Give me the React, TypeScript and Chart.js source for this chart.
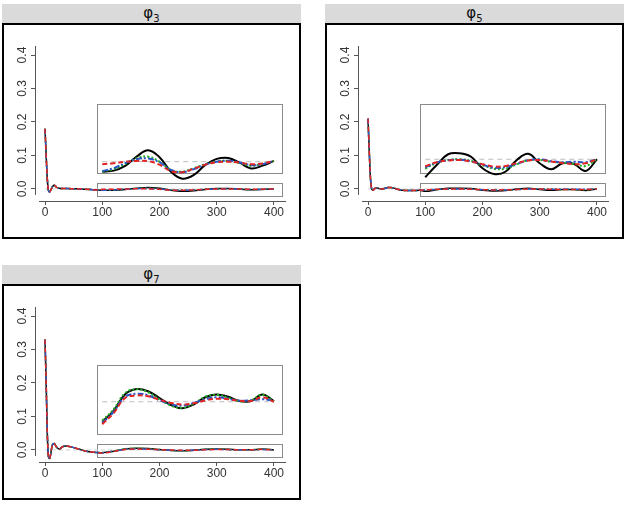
import React, { useEffect, useRef } from "react";
import { Chart, registerables } from "chart.js";
Chart.register(...registerables);

// ---------- data ----------
const earlyX = [0, 2, 4, 6, 8, 10, 12, 14, 16, 18, 20, 25, 30, 35, 40, 50, 60, 70, 80, 90];
const insetX = [100, 120, 140, 160, 180, 200, 220, 240, 260, 280, 300, 320, 340, 360, 380, 400];
const xTicks = [0, 100, 200, 300, 400];
const yTicks = [0, 0.1, 0.2, 0.3, 0.4];

// φ3 (main values; inset values in units of 1e-3)
const phi3Early = [0.18, 0.10, 0.03, -0.005, -0.009, -0.004, 0.004, 0.009, 0.011, 0.009, 0.005, 0.002, 0.001, 0.001, 0.001, 0.0005, 0, -0.001, -0.002, -0.003];
const phi3Black = [-4.0, -3.6, -1.7, 2.0, 4.6, 1.8, -4.0, -6.8, -5.3, -1.3, 1.1, 1.5, -0.4, -2.7, -1.6, 0.3];
const phi3Green = [-4.0, -3.0, -0.9, 1.4, 2.0, 0.0, -3.3, -4.0, -2.6, -1.0, 0.0, 0.3, -0.6, -1.6, -0.9, 0.3];
const phi3Blue = [-3.8, -2.6, -0.6, 1.0, 1.3, -0.2, -3.3, -4.2, -3.0, -1.2, 0.0, 0.4, -0.3, -1.4, -1.0, 0.3];
const phi3Red = [-1.0, -0.6, 0.0, 0.3, 0.2, -1.2, -3.8, -4.2, -2.8, -1.2, -0.2, 0.0, -0.4, -1.0, -0.7, 0.3];

// φ5
const phi5Early = [0.21, 0.12, 0.04, 0.003, -0.004, -0.002, 0.002, 0.003, 0.003, 0.002, 0.001, 0.0, 0.002, 0.004, 0.004, 0.0, -0.004, -0.005, -0.005, -0.004];
const phi5Black = [-7.2, -2.3, 2.0, 2.4, 1.0, -3.6, -5.9, -5.0, -0.3, 2.2, -1.6, -4.0, -1.6, -1.9, -4.7, 0.0];
const phi5Green = [-3.8, -1.4, -0.3, 0.0, -0.7, -2.4, -3.8, -3.8, -2.0, -0.4, -0.3, -1.0, -1.4, -1.8, -2.7, 0.0];
const phi5Blue = [-3.2, -1.3, -0.4, -0.2, -0.8, -2.2, -3.4, -3.2, -1.8, -0.4, 0.0, -0.8, -1.2, -1.0, -1.2, 0.0];
const phi5Red = [-2.8, -1.2, -0.5, -0.3, -0.9, -2.0, -2.9, -2.7, -1.5, -0.5, -0.3, -0.9, -1.5, -2.0, -1.6, 0.0];

// φ7
const phi7Early = [0.33, 0.20, 0.05, -0.02, -0.026, -0.012, 0.01, 0.018, 0.019, 0.015, 0.009, 0.003, 0.009, 0.012, 0.011, 0.007, 0.002, -0.003, -0.006, -0.0075];
const phi7Black = [-8.0, -3.6, 3.0, 5.1, 4.2, 1.5, -1.3, -2.6, -1.0, 1.8, 2.9, 2.0, 0.3, 0.3, 2.9, 0.2];
const phi7Green = [-7.5, -3.0, 3.5, 5.0, 3.8, 1.0, -1.5, -2.4, -0.8, 2.0, 2.8, 1.6, 0.2, 0.6, 2.8, 0.2];
const phi7Blue = [-8.5, -4.0, 2.0, 3.2, 2.6, 0.6, -1.0, -1.5, -0.5, 1.0, 1.8, 1.2, 0.4, 0.6, 1.0, 0.4];
const phi7Red = [-9.0, -4.5, 1.5, 2.5, 2.2, 0.8, -0.5, -1.1, -0.6, 0.5, 1.2, 1.0, 0.4, 0.3, 1.8, 0.0];

// ---------- layout constants ----------
const X_MIN = -17.5;
const X_MAX = 421;
const Y_MIN = -0.036;
const Y_MAX = 0.427;
const AXIS_X_FROM = -10.5;
const AXIS_Y_TOP = 0.427;
const AXIS_Y_BOTTOM = -0.018;
const BIG_BOX = { x0: 91, x1: 414, y0: 0.048, y1: 0.254 };
const SMALL_BOX = { x0: 91, x1: 414, y0: -0.021, y1: 0.018 };
const INSET_MAG = 7.46; // inset magnification relative to main axis

const COLORS = {
  black: "#000000",
  green: "#1fae1f",
  blue: "#2a55c8",
  red: "#e02424",
  ref: "#bdbdbd",
  zero: "#d0d0d0",
};

type PanelSpec = {
  sub: string;
  left: number;
  top: number;
  early: number[];
  black: number[];
  green: number[];
  blue: number[];
  red: number[];
  base: number; // main-axis position of inset zero
};

const panels: PanelSpec[] = [
  { sub: "3", left: 2, top: 4, early: phi3Early, black: phi3Black, green: phi3Green, blue: phi3Blue, red: phi3Red, base: 0.0815 },
  { sub: "5", left: 325, top: 4, early: phi5Early, black: phi5Black, green: phi5Green, blue: phi5Blue, red: phi5Red, base: 0.0887 },
  { sub: "7", left: 2, top: 265, early: phi7Early, black: phi7Black, green: phi7Green, blue: phi7Blue, red: phi7Red, base: 0.144 },
];

const FONT = "'Liberation Sans', Arial, sans-serif";

function PanelChart({ p }: { p: PanelSpec }) {
  const ref = useRef<HTMLCanvasElement | null>(null);
  useEffect(() => {
    if (!ref.current) return;
    const mainSeries = (vals: number[], color: string, dash: number[], width: number) => ({
      data: [
        ...earlyX.map((x, i) => ({ x, y: p.early[i] })),
        ...insetX.map((x, i) => ({ x, y: vals[i] / 1000 })),
      ],
      yAxisID: "y",
      borderColor: color,
      borderDash: dash,
      borderWidth: width,
      pointRadius: 0,
      fill: false,
      cubicInterpolationMode: "monotone" as const,
    });
    const insetSeries = (vals: number[], color: string, dash: number[], width: number) => ({
      data: insetX.map((x, i) => ({ x, y: vals[i] / 1000 })),
      yAxisID: "y2",
      borderColor: color,
      borderDash: dash,
      borderWidth: width,
      pointRadius: 0,
      fill: false,
      tension: 0.4,
    });
    const zeroMain = {
      data: [{ x: earlyX[0], y: 0 }, { x: insetX[insetX.length - 1], y: 0 }],
      yAxisID: "y",
      borderColor: COLORS.zero,
      borderDash: [4, 3],
      borderWidth: 1,
      pointRadius: 0,
      fill: false,
    };
    const refInset = {
      data: [{ x: insetX[0], y: 0 }, { x: insetX[insetX.length - 1], y: 0 }],
      yAxisID: "y2",
      borderColor: COLORS.ref,
      borderDash: [5, 4],
      borderWidth: 1,
      pointRadius: 0,
      fill: false,
    };

    const overlay = {
      id: "overlay",
      beforeDatasetsDraw(chart: any) {
        const { ctx } = chart;
        const x = chart.scales.x;
        const y = chart.scales.y;
        ctx.save();
        ctx.strokeStyle = "#8a8a8a";
        ctx.lineWidth = 1;
        for (const r of [BIG_BOX, SMALL_BOX]) {
          const px0 = Math.round(x.getPixelForValue(r.x0)) + 0.5;
          const px1 = Math.round(x.getPixelForValue(r.x1)) + 0.5;
          const py0 = Math.round(y.getPixelForValue(r.y1)) + 0.5;
          const py1 = Math.round(y.getPixelForValue(r.y0)) + 0.5;
          ctx.strokeRect(px0, py0, px1 - px0, py1 - py0);
        }
        ctx.restore();
      },
      afterDraw(chart: any) {
        const { ctx, chartArea } = chart;
        const x = chart.scales.x;
        const y = chart.scales.y;
        ctx.save();
        ctx.strokeStyle = "#555555";
        ctx.lineWidth = 1;
        ctx.beginPath();
        const lx = Math.round(chartArea.left) + 0.5;
        ctx.moveTo(lx, y.getPixelForValue(AXIS_Y_TOP));
        ctx.lineTo(lx, y.getPixelForValue(AXIS_Y_BOTTOM));
        const by = Math.round(chartArea.bottom) + 0.5;
        ctx.moveTo(x.getPixelForValue(AXIS_X_FROM), by);
        ctx.lineTo(x.getPixelForValue(X_MAX), by);
        ctx.stroke();
        ctx.restore();
      },
    };

    const chart = new Chart(ref.current, {
      type: "line",
      data: {
        datasets: [
          mainSeries(p.red, COLORS.red, [5, 3], 1.5),
          mainSeries(p.blue, COLORS.blue, [6, 2, 2, 2], 1.5),
          mainSeries(p.green, COLORS.green, [2, 2], 1.5),
          mainSeries(p.black, COLORS.black, [], 1.5),
          zeroMain,
          insetSeries(p.red, COLORS.red, [5, 3], 2),
          insetSeries(p.blue, COLORS.blue, [6, 2, 2, 2], 2),
          insetSeries(p.green, COLORS.green, [2, 2], 2),
          insetSeries(p.black, COLORS.black, [], 2),
          refInset,
        ] as any,
      },
      options: {
        animation: false,
        responsive: false,
        maintainAspectRatio: false,
        layout: { padding: { left: 0, top: 21, right: 13, bottom: 0 } },
        plugins: { legend: { display: false }, tooltip: { enabled: false } },
        scales: {
          x: {
            type: "linear",
            min: X_MIN,
            max: X_MAX,
            afterBuildTicks: (s: any) => {
              s.ticks = xTicks.map((v) => ({ value: v }));
            },
            afterFit: (s: any) => {
              s.height = 36;
            },
            grid: { drawOnChartArea: false, drawTicks: true, tickLength: 4, tickColor: "#555555" },
            border: { display: false },
            ticks: {
              color: "#333333",
              font: { size: 12, family: FONT },
              padding: 0,
              maxRotation: 0,
              callback: (v: any) => String(v),
            },
          },
          y: {
            type: "linear",
            min: Y_MIN,
            max: Y_MAX,
            afterBuildTicks: (s: any) => {
              s.ticks = yTicks.map((v) => ({ value: v }));
            },
            afterFit: (s: any) => {
              s.width = 31;
            },
            grid: { drawOnChartArea: false, drawTicks: true, tickLength: 4, tickColor: "#555555" },
            border: { display: false },
            ticks: {
              color: "#333333",
              font: { size: 12, family: FONT },
              padding: 0,
              minRotation: 90,
              maxRotation: 90,
              crossAlign: "center",
              callback: (v: any) => Number(v).toFixed(1),
            },
          },
          y2: {
            type: "linear",
            display: false,
            min: (Y_MIN - p.base) / INSET_MAG,
            max: (Y_MAX - p.base) / INSET_MAG,
          },
        },
      } as any,
      plugins: [overlay],
    });
    return () => chart.destroy();
  }, [p]);

  return (
    <div style={{ position: "absolute", left: p.left, top: p.top, width: 299, height: 235 }}>
      <div
        style={{
          position: "absolute",
          left: 0,
          top: 0,
          width: 299,
          height: 19,
          background: "#dadada",
          textAlign: "center",
          fontFamily: "'DejaVu Sans', sans-serif",
          fontSize: 15,
          lineHeight: "19px",
          color: "#111",
        }}
      >
        φ<sub style={{ fontSize: 10, verticalAlign: "-4px", lineHeight: 0 }}>{p.sub}</sub>
      </div>
      <div
        style={{
          position: "absolute",
          left: 0,
          top: 19,
          width: 299,
          height: 216,
          border: "2px solid #000",
          boxSizing: "border-box",
          background: "#fff",
        }}
      >
        <canvas ref={ref} width={295} height={212} style={{ display: "block", width: 295, height: 212 }} />
      </div>
    </div>
  );
}

export default function App() {
  return (
    <div style={{ position: "absolute", left: 0, top: 0, width: 634, height: 511, background: "#fff" }}>
      {panels.map((p) => (
        <PanelChart key={p.sub} p={p} />
      ))}
    </div>
  );
}
